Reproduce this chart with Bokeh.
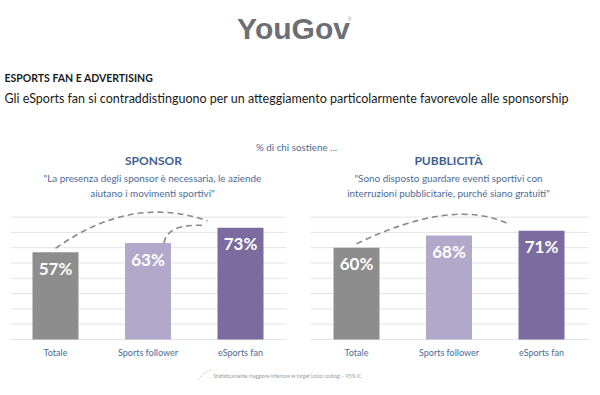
from bokeh.plotting import figure
from bokeh.models import Range1d, Label
from bokeh.embed import file_html
from bokeh.resources import INLINE
from bokeh.core.properties import value

# ---------------- data ----------------
categories = ["Totale", "Sports follower", "eSports fan"]
sponsor_values = [57, 63, 73]
pubblicita_values = [60, 68, 71]
sponsor_significant = [(0, 2), (1, 2)]
pubblicita_significant = [(0, 2)]
grid_values = [0, 10, 20, 30, 40, 50, 60, 70, 80]
value_labels_sponsor = [f"{v}%" for v in sponsor_values]
value_labels_pubblicita = [f"{v}%" for v in pubblicita_values]

# ---------------- style / layout ----------------
W, H = 600, 395
BASE = 339.0      # pixel row (from top) of the 0% baseline
PPU = 1.53        # pixels per percentage point
bar_colors = ["#8d8d8d", "#b1a8ca", "#7b6b9f"]
text_blue = "#4a6b98"
title_blue = "#3e5f8f"
FONT = "Lato"

def py(ytop):
    return (BASE - ytop) / PPU

p = figure(width=W, height=H, x_range=Range1d(0, W),
           y_range=Range1d(-(H - BASE) / PPU, BASE / PPU),
           output_backend="svg", toolbar_location=None,
           min_border=0, outline_line_color=None)
p.axis.visible = False
p.grid.visible = False
p.background_fill_color = "white"
p.border_fill_color = "white"

panels = [
    dict(x0=55.0, gx=(10, 286), vals=sponsor_values, labels=value_labels_sponsor,
         sig=sponsor_significant),
    dict(x0=356.0, gx=(310, 588), vals=pubblicita_values, labels=value_labels_pubblicita,
         sig=pubblicita_significant),
]
SPACING = 92.5
BAR_W = 46

for pan in panels:
    xs = [pan["x0"] + i * SPACING for i in range(len(categories))]
    # gridlines
    p.segment(x0=[pan["gx"][0]] * len(grid_values), x1=[pan["gx"][1]] * len(grid_values),
              y0=grid_values, y1=grid_values, line_color="#e4e4e4", line_width=1)
    # bars
    p.vbar(x=xs, top=pan["vals"], bottom=0, width=BAR_W, fill_color=bar_colors,
           line_color=None)
    # value labels
    p.text(x=xs, y=[v - 10.5 for v in pan["vals"]], text=pan["labels"],
           text_align="center", text_baseline="middle", text_color="white",
           text_font=value(FONT), text_font_style="bold", text_font_size="17px")
    # category labels
    p.text(x=xs, y=[py(352)] * len(xs), text=categories, text_align="center",
           text_baseline="middle", text_color=text_blue, text_font=value(FONT),
           text_font_size="9px")
    # significance arcs
    for a, b in pan["sig"]:
        va, vb = pan["vals"][a], pan["vals"][b]
        if b - a == 2:
            sx, sy = xs[a], va + 2.5
            ex, ey = xs[b] - 33, vb + 4.5
            cx, cy = (sx + ex) / 2 + (0 if pan["x0"] < 300 else 20), max(va, vb) + 22
        else:
            sx, sy = xs[a] + 16, va
            ex, ey = xs[b] - 35, vb + 1.5
            cx, cy = sx + 3, vb + 3
        p.quadratic(x0=[sx], y0=[sy], x1=[ex], y1=[ey], cx=[cx], cy=[cy],
                    line_color="#8a8a8a", line_width=1.6, line_dash="6 4")

# legend icon
p.quadratic(x0=[198], y0=[py(379)], x1=[212], y1=[py(369)], cx=[205], cy=[py(370)],
            line_color="#9a9a9a", line_width=1, line_dash="1 2")


def label(x, ytop, text, size, color, bold=False, align="center", font=FONT):
    p.add_layout(Label(x=x, y=H - ytop, x_units="screen", y_units="screen", text=text,
                       text_align=align, text_baseline="middle", text_color=color,
                       text_font=font, text_font_size=size,
                       text_font_style="bold" if bold else "normal"))

label(293, 28, "YouGov", "30px", "#6e6f76", bold=True, font="Liberation Sans")
label(349, 18, "®", "5px", "#9a9a9a", font="Liberation Sans")
label(4, 77, "ESPORTS FAN E ADVERTISING", "10.5px", "#1a1a1a", bold=True, align="left")
label(4, 98, "Gli eSports fan si contraddistinguono per un atteggiamento particolarmente "
             "favorevole alle  sponsorship", "12.5px", "#1a1a1a", align="left")
label(296, 146, "% di chi sostiene ...", "9.8px", text_blue)
label(153, 160, "SPONSOR", "12px", title_blue, bold=True)
label(152, 177, "\"La presenza degli sponsor è necessaria, le aziende", "9.9px", text_blue)
label(152, 192, "aiutano i movimenti sportivi\"", "9.9px", text_blue)
label(448, 160, "PUBBLICITÀ", "12px", title_blue, bold=True)
label(448, 177, "\"Sono disposto guardare eventi sportivi con", "9.9px", text_blue)
label(448, 192, "interruzioni pubblicitarie, purché siano gratuiti\"", "9.9px", text_blue)
label(213, 375, "Statisticamente maggiore/inferiore vs target (color coding) – 95% IC",
      "5px", "#9a9a9a", align="left")

open("out.html", "w").write(file_html(p, INLINE))
